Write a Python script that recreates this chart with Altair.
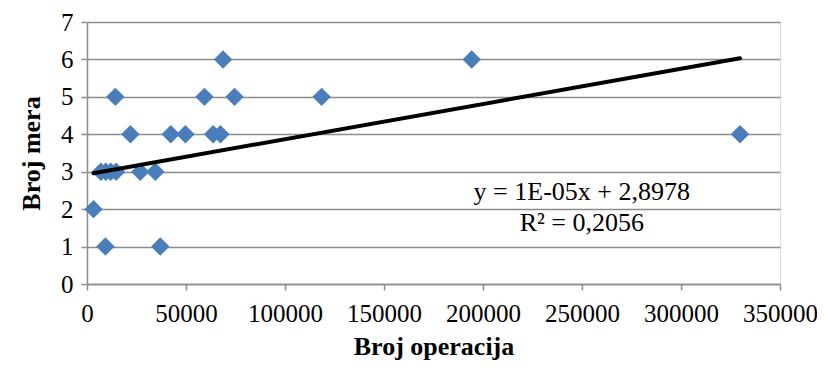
import altair as alt
import pandas as pd

# Data
broj_operacija = [3300, 9300, 37000, 7000, 9500, 12000, 14700, 26900, 34500,
                  21900, 42300, 49700, 63700, 67400, 329800,
                  14300, 59300, 74500, 118500, 68700, 194300]
broj_mera = [2, 1, 1, 3, 3, 3, 3, 3, 3,
             4, 4, 4, 4, 4, 4,
             5, 5, 5, 5, 6, 6]

# Linear trend line as drawn in the reference (end points)
trend_x = [3300, 329800]
trend_y = [2.96, 6.03]

annot_text = ["y = 1E-05x + 2,8978", "R² = 0,2056"]
annot_x = [249900, 249900]
annot_y = [2.47, 1.63]

x_ticks = [0, 50000, 100000, 150000, 200000, 250000, 300000, 350000]
y_ticks = [0, 1, 2, 3, 4, 5, 6, 7]

df = pd.DataFrame({"x": broj_operacija, "y": broj_mera})
tr = pd.DataFrame({"x": trend_x, "y": trend_y})
ann = pd.DataFrame({"t": annot_text, "x": annot_x, "y": annot_y})

FONT = "'Liberation Serif', 'Times New Roman', 'DejaVu Serif', serif"
GRID = "#8c8c8c"

xs = alt.Scale(domain=[0, 350000], nice=False)
ys = alt.Scale(domain=[0, 7], nice=False)

xaxis = alt.Axis(values=x_ticks, grid=False, format="d",
                 labelFlush=False, labelPadding=11,
                 title="Broj operacija", titlePadding=7)
yaxis = alt.Axis(values=y_ticks, grid=True, format="d", labelPadding=8,
                 title="Broj mera", titlePadding=16)

X = alt.X("x:Q", scale=xs, axis=xaxis)
Y = alt.Y("y:Q", scale=ys, axis=yaxis)

points = alt.Chart(df).mark_point(shape="diamond", filled=True, size=340,
                                  color="#4a7ebb", opacity=1).encode(x=X, y=Y)

trend = alt.Chart(tr).mark_line(color="black", strokeWidth=4,
                                strokeCap="round").encode(x=X, y=Y)

text = alt.Chart(ann).mark_text(font=FONT, fontSize=26, color="black",
                                align="center", baseline="middle").encode(
    x=X, y=Y, text="t:N")

chart = alt.layer(points, trend, text).properties(
    width=693, height=262,
    autosize=alt.AutoSizeParams(type="none"),
    padding={"left": 79, "top": 14, "right": 37, "bottom": 76},
).configure_view(stroke=None).configure(background="white", font=FONT).configure_axis(
    gridColor=GRID, gridWidth=1.5,
    domainColor=GRID, domainWidth=1.5,
    tickColor=GRID, tickSize=6, tickWidth=1.5,
    labelFont=FONT, labelFontSize=25, labelColor="black",
    titleFont=FONT, titleFontSize=26, titleFontWeight="bold", titleColor="black",
)

chart.save("out.html", embed_options={"renderer": "svg", "actions": False})
